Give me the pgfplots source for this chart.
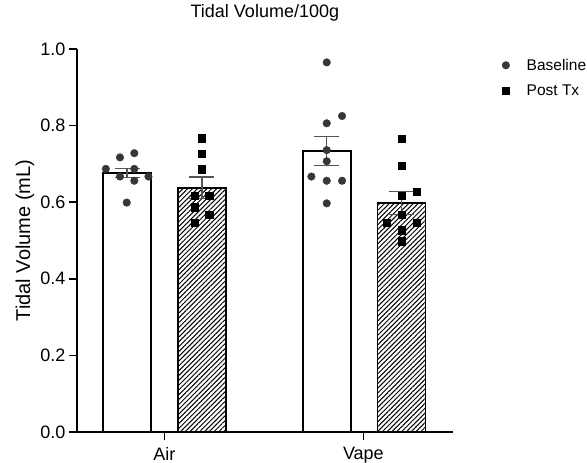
\documentclass[border=0pt]{standalone}
\usepackage{fontspec}
\setmainfont{Liberation Sans}
\usepackage{pgfplots}
\pgfplotsset{compat=1.18}
\usetikzlibrary{patterns.meta}

\definecolor{dotgray}{RGB}{55,55,55}
\definecolor{errgray}{RGB}{85,85,85}

\begin{document}
\begin{tikzpicture}
\begin{axis}[
    scale only axis,
    width=375.7bp, height=383bp,
    xmin=-0.439, xmax=1.449,
    ymin=0, ymax=1,
    axis lines=left,
    axis line style={-, line width=1.6bp},
    xtick={0,1}, xticklabels={Air,Vape},
    ytick={0,0.2,0.4,0.6,0.8,1},
    y tick label style={/pgf/number format/fixed,
        /pgf/number format/fixed zerofill,
        /pgf/number format/precision=1},
    x tick label style={yshift=-4bp},
    /pgf/number format/assume math mode=true,
    tick align=outside,
    major tick length=8bp,
    tick style={line width=1.6bp, black},
    ticklabel style={font=\fontsize{18bp}{21bp}\selectfont},
    title={Tidal Volume/100g},
    title style={font=\fontsize{18bp}{21bp}\selectfont,
        at={(0.5,1)}, anchor=center, yshift=30bp},
    ylabel={Tidal Volume (mL)},
    ylabel style={font=\fontsize{20bp}{23bp}\selectfont,
        at={(0,0.5)}, anchor=center, yshift=52bp},
    legend style={at={(1.123,0.985)}, anchor=north west,
        draw=none, fill=none,
        font=\fontsize{15.5bp}{18bp}\selectfont,
        row sep=9bp,
        /tikz/every odd column/.append style={column sep=15bp}},
    legend cell align=left,
    clip=false,
]
% bars with SEM
\addplot[ybar, bar width=0.241, bar shift=0pt, draw=black,
    line width=1.8bp, fill=white, forget plot,
    error bars/.cd, y dir=both, y explicit,
    error bar style={line width=1.4bp, errgray},
    error mark options={rotate=90, mark size=12.5bp, line width=1.4bp, errgray}]
    coordinates {(-0.187,0.676) +- (0,0.012) (0.816,0.734) +- (0,0.038)};
\addplot[ybar, bar width=0.241, bar shift=0pt, draw=black,
    line width=1.8bp,
    pattern={Lines[angle=45,distance=3.4bp,line width=1bp]},
    forget plot,
    error bars/.cd, y dir=both, y explicit,
    error bar style={line width=1.4bp, errgray},
    error mark options={rotate=90, mark size=12.5bp, line width=1.4bp, errgray}]
    coordinates {(0.189,0.638) +- (0,0.028) (1.192,0.598) +- (0,0.030)};

% individual animals
\addplot[only marks, mark=*, mark size=3.8bp, dotgray] coordinates {
    (-0.223,0.717) (-0.151,0.728) (-0.294,0.687) (-0.151,0.687)
    (-0.223,0.667) (-0.151,0.656) (-0.080,0.667) (-0.189,0.599)
    (0.816,0.965) (0.893,0.825) (0.816,0.806) (0.816,0.736)
    (0.816,0.707) (0.739,0.667) (0.816,0.656) (0.893,0.656)
    (0.816,0.597)
};
\addlegendentry{Baseline}
\addplot[only marks, mark=square*, mark size=3.6bp, black] coordinates {
    (0.188,0.767) (0.188,0.726) (0.188,0.686) (0.151,0.616)
    (0.225,0.616) (0.151,0.587) (0.225,0.567) (0.151,0.547)
    (1.193,0.766) (1.193,0.696) (1.193,0.617) (1.269,0.627)
    (1.193,0.567) (1.118,0.547) (1.269,0.547) (1.193,0.527)
    (1.193,0.498)
};
\addlegendentry{Post Tx}
\end{axis}
\pgfresetboundingbox
\path (-77bp,-31bp) rectangle (510bp,432bp);
\end{tikzpicture}
\end{document}
